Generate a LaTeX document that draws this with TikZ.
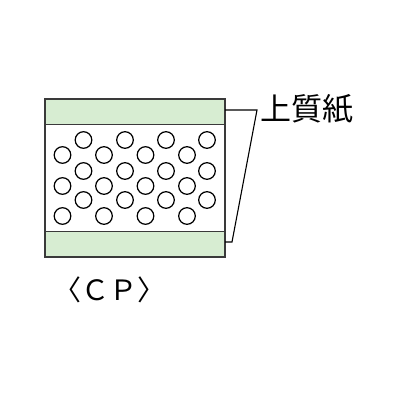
\documentclass[tikz,border=0pt]{standalone}
\usepackage{fontspec}
\newfontfamily\cjk{Noto Sans CJK JP}
\definecolor{bandgreen}{HTML}{D7EDD2}
\definecolor{edge}{HTML}{3A3A3A}
\begin{document}
\begin{tikzpicture}[x=1pt,y=-1pt,
  outline/.style={draw=edge,line width=1.4pt},
  bubble/.style={draw=black,line width=1.2pt,fill=white},
  leader/.style={draw=black,line width=1.1pt},
  lbl/.style={font=\cjk\fontsize{31}{33}\selectfont,inner sep=0pt,anchor=west}]
\useasboundingbox (0,0) rectangle (400,400);
% body
\filldraw[outline,fill=white] (45,99) rectangle (225,257);
\filldraw[outline,fill=bandgreen] (45,99) rectangle (225,124.5);
\filldraw[outline,fill=bandgreen] (45,231.5) rectangle (225,257);
% bubbles
\foreach \y in {140,171,200}{
  \foreach \x in {83.5,125,166,207}{
    \draw[bubble] (\x,\y) circle (8.3);
  }
}
\foreach \y in {155,186,216}{
  \foreach \x in {62.5,104,145.5,187}{
    \draw[bubble] (\x,\y) circle (8.3);
  }
}
% label and leader
\node[lbl] (paper) at (260,109.5) {上質紙};
\coordinate (t0) at (225,110);
\coordinate (t1) at (257,110);
\coordinate (b1) at (232,242);
\coordinate (b0) at (225,242);
\draw[leader] (t0) -- (t1) -- (b1) -- (b0);
\node[font=\cjk\fontsize{28}{30}\selectfont,inner sep=0pt] (cp) at (109.5,290) {〈ＣＰ〉};
\end{tikzpicture}
\end{document}
